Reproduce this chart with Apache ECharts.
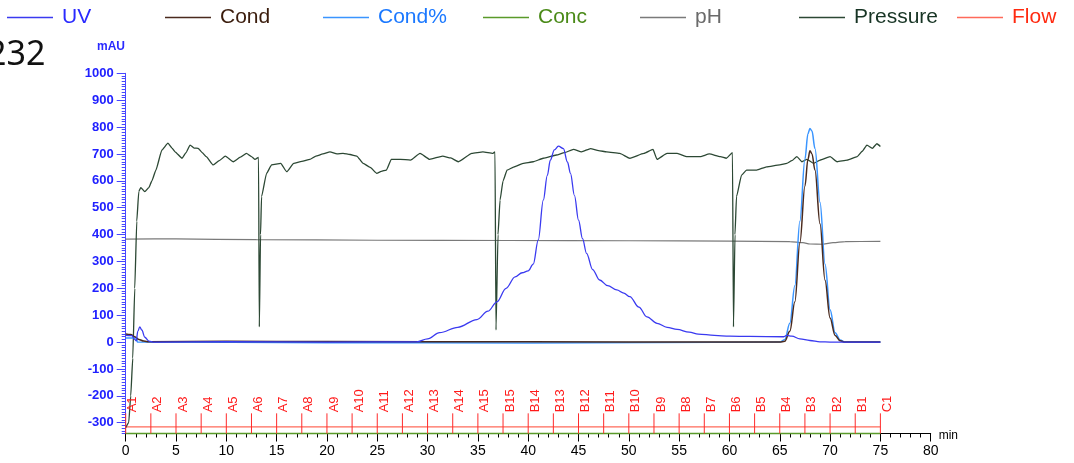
<!DOCTYPE html>
<html>
<head>
<meta charset="utf-8">
<script src="https://cdn.jsdelivr.net/npm/echarts@6/dist/echarts.min.js"></script>
<style>
html,body{margin:0;padding:0;background:#fff;}
#chart{width:1074px;height:463px;}
</style>
</head>
<body>
<div id="chart"></div>
<script>
// ---- data (time in min, value in mAU-scaled units) ----
const uvData = [[0,25],[0.6,24],[0.9,10],[1.05,5],[1.2,40],[1.4,57],[1.6,45],[1.9,18],[2.3,4],[2.8,0],[10,2],[20,0],[28.9,1],[30,12],[31.2,35],[33,55],[34.9,84],[36,115],[36.9,150],[37.8,200],[38.7,243],[39.4,258],[40,265],[40.5,290],[41,380],[41.5,528],[41.9,620],[42.2,677],[42.6,715],[43,729],[43.5,720],[43.9,670],[44.2,628],[44.6,545],[45,454],[45.4,385],[45.8,330],[46.4,270],[47.1,231],[47.9,210],[48.8,194],[49.5,182],[50.1,169],[51,130],[51.8,94],[52.8,70],[53.8,55],[54.8,47],[56,37],[56.9,30],[58.5,25],[60,22],[62,21],[65.4,20],[65.7,25],[66.2,22],[67,12],[68,6],[69,1],[70,0],[75,0]];
const condData = [[0,30],[0.5,28],[0.9,20],[1.3,10],[1.8,4],[2.3,1],[10,3],[20,2],[40,1],[60,0],[65,0],[65.5,3],[66,40],[66.5,150],[67,370],[67.5,580],[67.8,680],[68,712],[68.2,700],[68.5,640],[69,440],[69.5,230],[70,90],[70.5,25],[71,5],[71.5,0],[75,0]];
const condPctData = [[0,15],[1.1,15],[1.15,0],[20,-2],[40,-3],[65,0],[65.5,10],[66,70],[66.5,210],[67,450],[67.5,680],[67.8,775],[68,795],[68.2,785],[68.5,720],[69,520],[69.5,290],[70,120],[70.5,35],[71,8],[71.5,0],[75,0]];
const concData = [[0,-340],[75,-340]];
const phData = [[0,383],[5,384],[13,381],[25,379],[38,378],[50,377],[60,376],[66,374],[67.3,370],[68,365],[69.3,364],[70.3,370],[71.5,374],[75,375]];
const pressureData = [[0,-318],[0.3,-300],[0.5,-200],[0.7,-60],[0.9,200],[1.1,450],[1.3,560],[1.5,575],[1.9,560],[2.3,575],[2.6,600],[3.0,640],[3.6,715],[4.2,740],[4.6,722],[4.9,708],[5.6,684],[6.0,705],[6.4,733],[6.8,722],[7.2,721],[7.6,705],[8.0,690],[8.7,659],[9.3,675],[9.9,692],[10.7,671],[11.4,688],[12.0,702],[12.5,690],[12.85,680],[13.2,687],[13.28,57],[13.4,400],[13.5,541],[14.0,628],[14.5,659],[15.4,665],[16.0,634],[16.7,665],[17.5,672],[18.3,680],[18.9,692],[19.6,700],[20.3,708],[21.0,700],[21.6,702],[22.3,698],[22.96,692],[23.6,665],[24.3,650],[24.95,628],[25.4,635],[25.9,640],[26.4,680],[27.3,680],[28.3,677],[29.25,702],[30.2,680],[31.5,692],[32.3,685],[33.06,671],[34.4,702],[35.5,708],[36.5,702],[36.7,708],[36.8,45],[37.0,400],[37.2,528],[37.5,600],[37.9,640],[38.6,652],[39.5,665],[40.5,671],[41.5,684],[42.8,696],[43.6,705],[44.5,717],[45.3,708],[46.2,720],[47.0,712],[47.8,708],[49.1,702],[50.1,684],[51.5,702],[52.4,717],[52.8,680],[53.8,702],[54.8,702],[55.8,690],[57.1,690],[58.0,700],[59.1,690],[59.7,684],[60.3,705],[60.4,57],[60.55,400],[60.7,541],[61.2,621],[61.7,640],[62.7,640],[63.7,652],[65.0,659],[65.7,665],[66.2,675],[66.7,690],[67.2,671],[67.7,680],[68.35,665],[69.0,677],[70.0,690],[70.7,671],[71.7,677],[72.7,690],[73.2,710],[73.66,733],[74.2,721],[74.65,738],[75.0,728]];
const flowData = [[0,-315],[75,-315]];
const fractionNames = ['A1','A2','A3','A4','A5','A6','A7','A8','A9','A10','A11','A12','A13','A14','A15','B15','B14','B13','B12','B11','B10','B9','B8','B7','B6','B5','B4','B3','B2','B1','C1'];
const fractionTimes = [0,2.5,5,7.5,10,12.5,15,17.5,20,22.5,25,27.5,30,32.5,35,37.5,40,42.5,45,47.5,50,52.5,55,57.5,60,62.5,65,67.5,70,72.5,75];
const yTickValues = [-300,-200,-100,0,100,200,300,400,500,600,700,800,900,1000];
const xTickLabels = [0,5,10,15,20,25,30,35,40,45,50,55,60,65,70,75,80];

const seriesNames = ['UV','Cond','Cond%','Conc','pH','Pressure','Flow'];
const lineColors = {UV:'#3a3af0', Cond:'#4a2a1e', 'Cond%':'#3a95ff', Conc:'#5a9a2a', pH:'#7a7a7a', Pressure:'#2c4834', Flow:'#ff6a5a'};
const textColors = {UV:'#2a2aff', Cond:'#3a1c0c', 'Cond%':'#1a78ff', Conc:'#4a8a18', pH:'#6a6a6a', Pressure:'#173424', Flow:'#ff2a10'};
const legendLeft = {UV:7, Cond:165, 'Cond%':323, Conc:483, pH:640, Pressure:799, Flow:957};

const FONT = 'Liberation Sans, Arial, sans-serif';
const Y_MIN = -340, Y_MAX = 1000;
const minorY = [];
for (let v = Y_MIN; v <= Y_MAX; v += 10) minorY.push(v);

const chart = echarts.init(document.getElementById('chart'), null, {renderer:'canvas'});

function lineSeries(name, data, width, z, smooth) {
  return {
    name: name, type: 'line', data: data, showSymbol: false, symbol: 'none',
    clip: false, z: z, animation: false, smooth: smooth || false, smoothMonotone: 'x',
    lineStyle: {color: lineColors[name], width: width},
    itemStyle: {color: lineColors[name]}
  };
}

const legends = seriesNames.map(n => ({
  data: [n], left: legendLeft[n], top: 7, padding: 0, selectedMode: false,
  icon: 'rect', itemWidth: 46, itemHeight: 1.6,
  itemStyle: {color: lineColors[n]},
  textStyle: {color: textColors[n], fontSize: 21, fontFamily: FONT, padding: [0,0,0,4]}
}));

const option = {
  animation: false,
  textStyle: {fontFamily: FONT},
  legend: legends,
  grid: {left: 125.7, right: 143.3, top: 73.3, bottom: 29.5, containLabel: false},
  graphic: [
    {type:'text', left: -13, top: 38, style:{text:'232', fontSize: 34, fontFamily:'Noto Sans, sans-serif', fill:'#111'}},
    {type:'text', left: 97, top: 41, style:{text:'mAU', fontSize: 12, fontWeight:'bold', fontFamily: FONT, fill:'#2a2aff'}}
  ],
  xAxis: {
    type: 'value', min: 0, max: 80, interval: 5,
    name: 'min', nameLocation: 'end', nameGap: 8,
    nameTextStyle: {color:'#000', fontSize: 12, verticalAlign: 'top', padding: [-4,0,0,0]},
    axisLine: {show: true, onZero: false, lineStyle: {color:'#000', width: 1}},
    axisTick: {show: true, inside: false, length: 8, lineStyle: {color:'#000'}},
    minorTick: {show: true, splitNumber: 5, length: 4, lineStyle: {color:'#000'}},
    axisLabel: {color:'#000', fontSize: 14, margin: 11,
      formatter: v => (xTickLabels.indexOf(v) >= 0 ? String(v) : '')},
    splitLine: {show: false}
  },
  yAxis: [
    {
      type: 'value', min: Y_MIN, max: Y_MAX, position: 'left',
      axisLine: {show: true, onZero: false, lineStyle: {color:'#4646ff', width: 1}},
      axisTick: {show: true, inside: false, length: 9, customValues: yTickValues, lineStyle: {color:'#4646ff'}},
      axisLabel: {show: true, customValues: yTickValues, color:'#2020ff', fontSize: 13, fontWeight: 'bold', margin: 12,
        formatter: v => String(Math.round(v))},
      splitLine: {show: false}
    },
    {
      type: 'value', min: Y_MIN, max: Y_MAX, position: 'left', offset: 0,
      axisLine: {show: false},
      axisTick: {show: true, inside: false, length: 4, customValues: minorY, lineStyle: {color:'#4646ff'}},
      axisLabel: {show: false},
      splitLine: {show: false}
    }
  ],
  series: [
    lineSeries('Flow', flowData, 1.2, 2),
    lineSeries('Conc', concData, 1.5, 2),
    lineSeries('pH', phData, 1.2, 3, 0.3),
    lineSeries('Pressure', pressureData, 1.3, 4, 0.15),
    lineSeries('Cond%', condPctData, 1.5, 5, 0.35),
    lineSeries('Cond', condData, 1.5, 6, 0.35),
    lineSeries('UV', uvData, 1.3, 7, 0.35),
    {
      name: 'fractions', type: 'custom', coordinateSystem: 'cartesian2d',
      clip: false, z: 8, animation: false, silent: true,
      data: fractionTimes.map(t => [t, -265]),
      encode: {x: 0, y: 1},
      renderItem: function (params, api) {
        const t = api.value(0);
        const top = api.coord([t, -265]);
        const bot = api.coord([t, Y_MIN]);
        return {
          type: 'group',
          children: [
            {type: 'line', shape: {x1: top[0], y1: top[1], x2: bot[0], y2: bot[1]},
             style: {stroke: '#ff2a2a', lineWidth: 1}},
            {type: 'text', x: top[0] + 0.5, y: top[1] - 1, rotation: Math.PI / 2,
             style: {text: fractionNames[params.dataIndex], fill: '#ff1a1a', fontSize: 13,
                     fontFamily: FONT, align: 'left', verticalAlign: 'top'}}
          ]
        };
      }
    }
  ]
};
chart.setOption(option);
</script>
</body>
</html>
